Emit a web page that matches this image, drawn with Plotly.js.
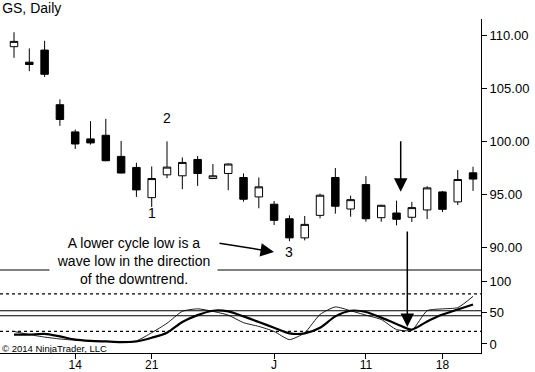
<!DOCTYPE html>
<html><head><meta charset="utf-8">
<script src="https://cdn.plot.ly/plotly-3.0.1.min.js"></script>
<style>html,body{margin:0;padding:0;background:#fff}#chart{width:535px;height:372px}</style>
</head><body><div id="chart"></div>
<script>
// Trading days (GS, May-June 2012)
const dates = ['2012-05-08','2012-05-09','2012-05-10','2012-05-11','2012-05-14','2012-05-15','2012-05-16','2012-05-17','2012-05-18',
  '2012-05-21','2012-05-22','2012-05-23','2012-05-24','2012-05-25','2012-05-29','2012-05-30','2012-05-31','2012-06-01',
  '2012-06-04','2012-06-05','2012-06-06','2012-06-07','2012-06-08','2012-06-11','2012-06-12','2012-06-13','2012-06-14',
  '2012-06-15','2012-06-18','2012-06-19','2012-06-20'];
const openP  = [108.9,107.44,108.58,103.43,100.87,100.21,100.55,98.56,97.52,94.67,96.82,96.73,98.27,96.47,96.95,96.57,94.74,94.05,92.68,90.88,93.0,96.57,93.6,95.9,92.78,93.22,92.82,93.51,95.21,94.27,97.01];
const highP  = [110.26,108.74,109.46,103.93,101.09,101.88,102.10,100.02,97.96,97.61,99.98,98.46,98.60,97.84,97.9,96.95,96.57,94.36,93.0,92.94,95.05,97.46,94.86,96.7,94.0,94.39,94.27,95.75,95.31,97.27,97.58];
const lowP   = [107.85,106.59,106.05,101.44,99.26,99.67,98.1,96.95,94.74,93.79,96.51,95.47,95.78,96.45,95.37,94.29,93.67,92.09,90.57,90.64,92.72,93.16,92.87,92.4,92.4,92.06,92.37,92.65,93.32,93.98,95.31];
const closeP = [109.4,107.22,106.30,102.04,99.73,99.83,98.15,96.99,95.40,96.47,97.55,97.99,96.95,96.73,97.84,94.52,95.69,92.53,90.88,92.15,94.9,93.86,94.48,92.68,93.95,92.63,93.73,95.59,93.57,96.38,96.42];
// Oscillator lines (thin = fast, thick = slow)
const fastLine = [20,15,11,8,6,5,4,4,5,18,33,52,56,52,46,34,28,20,7,18,47,59,53,46,39,23,22,53,56,58,76];
const slowLine = [15,15,16,12,7,5,4,3,4,10,18,35,46,53,52,44,35,26,17,17,26,44,53,51,42,32,23,36,47,55,63];
// Axis labels
const dateTickVals = ['2012-05-14','2012-05-21','2012-06-01','2012-06-11','2012-06-18'];
const dateTickText = ['14','21','J','11','18'];
const priceTickVals = [90,95,100,105,110];
const priceTickText = ['90.00','95.00','100.00','105.00','110.00'];
const oscTickVals = [0,50,100];
const oscTickText = ['0','50','100'];
const oscLevels = {dashed:[20,80], solid:[45,53]};
const cycleLabels = [
  {text:'1', x:'2012-05-21', y:93.2},
  {text:'2', x:'2012-05-22', y:102.2},
  {text:'3', x:'2012-06-04', y:89.55}
];

const FONT = "'Liberation Sans Narrow','Arial Narrow','Liberation Sans',Arial,sans-serif";
const plotH = 334;
const split = (353-270)/plotH;

const traces = [
  {type:'candlestick', x:dates, open:openP, high:highP, low:lowP, close:closeP, xaxis:'x', yaxis:'y',
   increasing:{line:{color:'#000',width:1}, fillcolor:'#fff'},
   decreasing:{line:{color:'#000',width:1}, fillcolor:'#000'},
   whiskerwidth:0, hoverinfo:'skip', showlegend:false},
  {type:'scatter', mode:'lines', x:dates, y:fastLine, xaxis:'x', yaxis:'y2',
   line:{color:'#000', width:0.9, shape:'spline', smoothing:0.6}, hoverinfo:'skip', showlegend:false},
  {type:'scatter', mode:'lines', x:dates, y:slowLine, xaxis:'x', yaxis:'y2',
   line:{color:'#000', width:2.2, shape:'spline', smoothing:0.8}, hoverinfo:'skip', showlegend:false}
];

const shapes = [
  {type:'line', xref:'paper', yref:'paper', x0:0, x1:1, y0:split, y1:split, line:{color:'#000', width:1}}
];
oscLevels.dashed.forEach(v => shapes.push({type:'line', xref:'paper', yref:'y2', x0:0, x1:1, y0:v, y1:v, line:{color:'#000', width:1.3, dash:'3px,3px'}}));
oscLevels.solid.forEach(v => shapes.push({type:'line', xref:'paper', yref:'y2', x0:0, x1:1, y0:v, y1:v, line:{color:'#000', width:1}}));

const annotations = [
  {xref:'paper', yref:'paper', x:133/481, y:(353-261)/plotH, xanchor:'center', yanchor:'middle',
   text:'A lower cycle low is a<br>wave low in the direction<br>of the downtrend.', showarrow:false,
   align:'center', bgcolor:'#fff', width:167, borderpad:0, font:{family:FONT, size:14, color:'#000'}},
  {xref:'paper', yref:'paper', x:0, y:(353-348)/plotH, xanchor:'left', yanchor:'middle',
   text:'© 2014 NinjaTrader, LLC', showarrow:false, font:{family:FONT, size:9.5, color:'#000'}},
  // arrows
  {xref:'paper', yref:'paper', x:274/481, y:(353-252)/plotH, ax:-56, ay:-9, text:'', showarrow:true,
   arrowhead:2, arrowsize:1.8, arrowwidth:1.5, arrowcolor:'#000'},
  {xref:'paper', yref:'paper', x:400.7/481, y:(353-191.7)/plotH, ax:0, ay:-52, text:'', showarrow:true,
   arrowhead:2, arrowsize:1.8, arrowwidth:1.5, arrowcolor:'#000'},
  {xref:'paper', yref:'paper', x:407.3/481, y:(353-327)/plotH, ax:0, ay:-97, text:'', showarrow:true,
   arrowhead:2, arrowsize:1.8, arrowwidth:1.5, arrowcolor:'#000'}
];
cycleLabels.forEach(c => annotations.push({xref:'x', yref:'y', x:c.x, y:c.y, text:c.text, showarrow:false,
  xanchor:'center', yanchor:'middle', font:{family:FONT, size:14, color:'#000'}}));

const axisFont = {family:FONT, size:13, color:'#000'};
const layout = {
  width:535, height:372,
  margin:{l:0, r:54, t:19, b:19, pad:0},
  paper_bgcolor:'#fff', plot_bgcolor:'#fff',
  showlegend:false,
  title:{text:'GS, Daily', x:0.004, xanchor:'left', xref:'container', y:1-8/372, yanchor:'middle', yref:'container',
         font:{family:FONT, size:14, color:'#000'}},
  xaxis:{type:'category', range:[-0.915, 30.52], anchor:'y2', showline:true, linecolor:'#000', linewidth:1,
         ticks:'outside', ticklen:5, tickcolor:'#000', tickwidth:1, tickvals:dateTickVals, ticktext:dateTickText,
         ticklabelstandoff:-4,
         tickfont:{family:FONT, size:12, color:'#000'}, showgrid:false, zeroline:false, rangeslider:{visible:false}, fixedrange:true},
  yaxis:{domain:[split,1], side:'right', range:[87.85,111.51], tickvals:priceTickVals, ticktext:priceTickText,
         showline:true, linecolor:'#000', linewidth:1, ticks:'outside', ticklen:5, tickcolor:'#000',
         tickfont:axisFont, showgrid:false, zeroline:false, fixedrange:true},
  yaxis2:{domain:[0,split], side:'right', range:[-14.4,118], tickvals:oscTickVals, ticktext:oscTickText,
         showline:true, linecolor:'#000', linewidth:1, ticks:'outside', ticklen:5, tickcolor:'#000',
         tickfont:axisFont, showgrid:false, zeroline:false, fixedrange:true},
  shapes:shapes, annotations:annotations
};
Plotly.newPlot('chart', traces, layout, {staticPlot:true, displayModeBar:false});
</script>
</body></html>
